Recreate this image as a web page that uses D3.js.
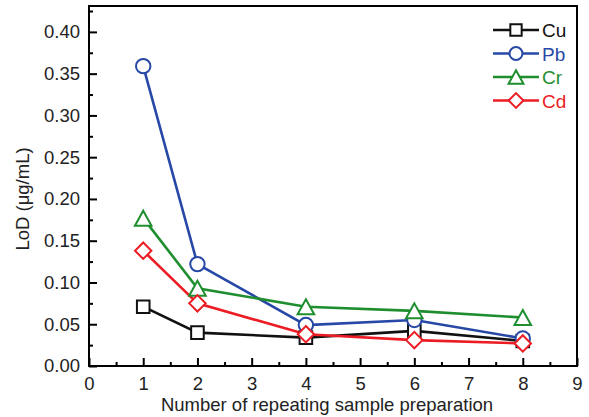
<!DOCTYPE html>
<html><head><meta charset="utf-8">
<script src="https://cdn.jsdelivr.net/npm/d3@7"></script>
<style>body{margin:0;background:#fff}svg{display:block}text{font-family:"Liberation Sans",Arial,sans-serif}</style>
</head><body>
<script>
const xValues = [1, 2, 4, 6, 8];
const cuValues = [0.071, 0.040, 0.034, 0.042, 0.030];
const pbValues = [0.359, 0.122, 0.049, 0.055, 0.033];
const crValues = [0.177, 0.093, 0.071, 0.066, 0.058];
const cdValues = [0.138, 0.075, 0.038, 0.031, 0.027];
const seriesNames = ["Cu", "Pb", "Cr", "Cd"];
const xTicks = [0,1,2,3,4,5,6,7,8,9];
const yTicks = [0,0.05,0.10,0.15,0.20,0.25,0.30,0.35,0.40];

const W = 589, H = 417;
const m = {l: 89, r: 12, t: 6, b: 51};
const FS = 18.5;
const svg = d3.select("body").append("svg").attr("width", W).attr("height", H);
const x = d3.scaleLinear().domain([0, 9]).range([m.l, W - m.r]);
const y = d3.scaleLinear().domain([0, 0.431]).range([H - m.b, m.t]);

const series = [
  {name: seriesNames[0], vals: cuValues, color: "#111111", shape: "square"},
  {name: seriesNames[1], vals: pbValues, color: "#2748a6", shape: "circle"},
  {name: seriesNames[2], vals: crValues, color: "#1f8e2f", shape: "triangle"},
  {name: seriesNames[3], vals: cdValues, color: "#ec1c24", shape: "diamond"}
];

// minor + major ticks
const gx = svg.append("g").attr("transform", `translate(0,${H - m.b})`);
gx.call(d3.axisBottom(x).tickValues(d3.range(0.5, 9, 1)).tickSize(-4).tickFormat(""));
gx.append("g").call(d3.axisBottom(x).tickValues(xTicks).tickSize(-8).tickPadding(11).tickFormat(d3.format("d")));
const gy = svg.append("g").attr("transform", `translate(${m.l},0)`);
gy.call(d3.axisLeft(y).tickValues(d3.range(0.025, 0.43, 0.05)).tickSize(-4).tickFormat(""));
gy.append("g").call(d3.axisLeft(y).tickValues(yTicks).tickSize(-8).tickPadding(9).tickFormat(d3.format(".2f")));
svg.selectAll(".domain").remove();
svg.selectAll(".tick line").attr("stroke", "#000").attr("stroke-width", 2);
svg.selectAll(".tick text").attr("font-size", FS).attr("fill", "#222");

// frame
svg.append("rect").attr("x", m.l).attr("y", m.t).attr("width", W - m.r - m.l).attr("height", H - m.b - m.t)
  .attr("fill", "none").attr("stroke", "#000").attr("stroke-width", 2);

function symbolPath(shape, k) {
  k = k || 1;
  if (shape === "square") { const a = 6.3 * k; return `M${-a},${-a}H${a}V${a}H${-a}Z`; }
  if (shape === "circle") { const r = 7.2 * k; return `M${r},0A${r},${r} 0 1,1 ${-r},0A${r},${r} 0 1,1 ${r},0Z`; }
  if (shape === "triangle") { const w = 8.3 * k, h = 7.5 * k; return `M0,${-h}L${w},${h}L${-w},${h}Z`; }
  const d = 8.2 * k; return `M0,${-d}L${d},0L0,${d}L${-d},0Z`;
}

const line = d3.line().x(d => x(d[0])).y(d => y(d[1]));
series.forEach(s => {
  const pts = xValues.map((xv, i) => [xv, s.vals[i]]);
  svg.append("path").attr("d", line(pts)).attr("fill", "none").attr("stroke", s.color).attr("stroke-width", 2.6);
});
series.forEach(s => {
  const pts = xValues.map((xv, i) => [xv, s.vals[i]]);
  svg.selectAll(null).data(pts).enter().append("path")
    .attr("d", symbolPath(s.shape))
    .attr("transform", d => `translate(${x(d[0])},${y(d[1])})`)
    .attr("fill", "#fff").attr("stroke", s.color).attr("stroke-width", 2);
});

// legend
const lg = svg.append("g");
series.forEach((s, i) => {
  const yy = 30 + i * 23.5;
  lg.append("line").attr("x1", 493).attr("x2", 539).attr("y1", yy).attr("y2", yy).attr("stroke", s.color).attr("stroke-width", 2.6);
  lg.append("path").attr("d", symbolPath(s.shape, 0.9)).attr("transform", `translate(516,${yy})`)
    .attr("fill", "#fff").attr("stroke", s.color).attr("stroke-width", 2);
  lg.append("text").attr("x", 542).attr("y", yy + 7).attr("font-size", FS + 0.5).attr("fill", s.color).text(s.name);
});

// axis titles
svg.append("text").attr("x", 327).attr("y", 411).attr("text-anchor", "middle")
  .attr("font-size", FS).attr("fill", "#222").text("Number of repeating sample preparation");
svg.append("text").attr("transform", `translate(29,199) rotate(-90)`).attr("text-anchor", "middle")
  .attr("font-size", FS).attr("fill", "#222").text("LoD (μg/mL)");
</script>
</body></html>
